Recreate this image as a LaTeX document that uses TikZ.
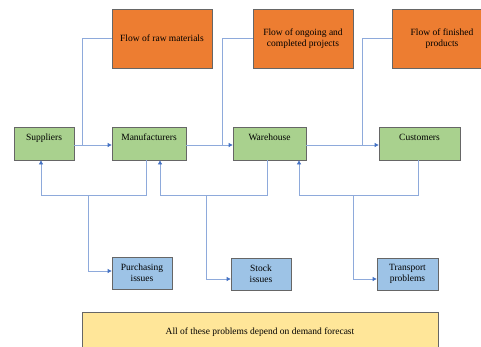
\documentclass[tikz,border=0pt]{standalone}
\usepackage{fontspec}
\setmainfont{Liberation Serif}
\usetikzlibrary{arrows.meta}

\definecolor{floworange}{HTML}{ED7D31}
\definecolor{actorgreen}{HTML}{A9D18E}
\definecolor{issueblue}{HTML}{9DC3E6}
\definecolor{noteyellow}{HTML}{FFE699}
\definecolor{linkblue}{HTML}{8EAADB}
\definecolor{tipblue}{HTML}{4472C4}

\begin{document}
\begin{tikzpicture}[x=1pt, y=-1pt, font=\fontsize{9.5}{11}\selectfont, align=center]

    % Styles
    \tikzstyle{box} = [rectangle, draw=black!60, line width=0.8pt, inner sep=3pt]
    \tikzstyle{flowbox} = [box, fill=floworange, minimum width=100pt, minimum height=59pt]
    \tikzstyle{actor} = [box, fill=actorgreen, minimum height=33pt, text height=10pt, text depth=17pt]
    \tikzstyle{issue} = [box, fill=issueblue, minimum width=60pt, minimum height=32pt]
    \tikzstyle{note} = [box, fill=noteyellow, minimum width=356pt, minimum height=40pt]
    \tikzstyle{link} = [draw=linkblue, line width=0.8pt]
    \tikzstyle{flow} = [link, -{Triangle[length=4pt, width=4pt, color=tipblue]}]

    \useasboundingbox (0,0) rectangle (481,346);

    % Flows
    \node[flowbox] (raw) at (162,38.5) {Flow of raw materials};
    \node[flowbox] (pro) at (303,38.5) {Flow of ongoing and\\ completed projects};
    \node[flowbox] (fin) at (442,38.5) {Flow of finished\\ products};

    % Chain
    \node[actor, minimum width=60pt] (sup) at (44,143.5) {Suppliers};
    \node[actor, minimum width=74pt] (man) at (149,143.5) {Manufacturers};
    \node[actor, minimum width=73pt] (war) at (269.5,143.5) {Warehouse};
    \node[actor, minimum width=81pt] (cus) at (419.5,143.5) {Customers};

    % Issues
    \node[issue] (pur) at (142,273) {Purchasing\\ issues};
    \node[issue] (sto) at (261,274) {Stock\\ issues};
    \node[issue, minimum width=61pt] (tra) at (407.5,274) {Transport\\ problems};

    % Note
    \node[note] (all) at (260,332) {All of these problems depend on demand forecast};

    % Junctions
    \coordinate (j1) at (82,145);
    \coordinate (j2) at (222,145);
    \coordinate (j3) at (362,145);
    \coordinate (p1) at (88,195);
    \coordinate (p2) at (206,195);
    \coordinate (p3) at (353,195);

    % Chain connections
    \draw[flow] (sup.east |- j1) -- (man.west |- j1);
    \draw[flow] (man.east |- j2) -- (war.west |- j2);
    \draw[flow] (war.east |- j3) -- (cus.west |- j3);

    % Flows to the chain
    \draw[link] (raw.west) -| (j1);
    \draw[link] (pro.west) -| (j2);
    \draw[link] (fin.west) -| (j3);

    % Purchasing issues
    \draw[flow] (p1) -| ([xshift=-3pt]sup.south);
    \draw[link] (p1) -| ([xshift=-3pt]man.south);
    \draw[flow] (p1) |- ([yshift=2pt]pur.west);

    % Stock issues
    \draw[flow] (p2) -| ([xshift=11pt]man.south);
    \draw[link] (p2) -| ([xshift=-2.5pt]war.south);
    \draw[flow] (p2) |- ([yshift=-5pt]sto.west);

    % Transport problems
    \draw[flow] (p3) -| ([xshift=29.5pt]war.south);
    \draw[link] (p3) -| ([xshift=-1.5pt]cus.south);
    \draw[flow] (p3) |- ([yshift=-5pt]tra.west);

\end{tikzpicture}
\end{document}
